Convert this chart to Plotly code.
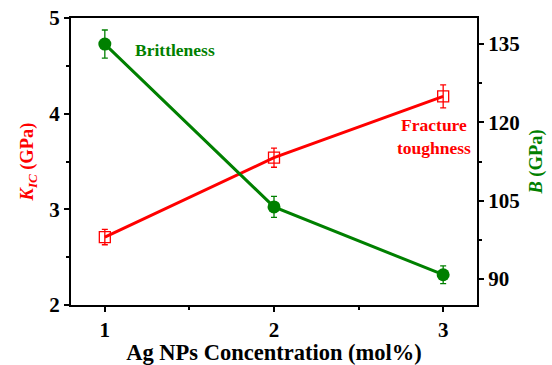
import plotly.graph_objects as go

conc = [1, 2, 3]
kic = [2.71, 3.54, 4.18]
kic_err = [0.08, 0.10, 0.12]
bmod = [135.0, 103.8, 90.8]
bmod_err = [2.7, 2.0, 1.7]

RED = "#ff0000"
GREEN = "#008000"
FONT = "Liberation Serif"

fig = go.Figure()
fig.add_trace(go.Scatter(
    x=conc, y=kic, mode="lines+markers",
    line=dict(color=RED, width=3),
    marker=dict(symbol="square-open", size=11, color=RED, line=dict(width=1.3)),
    error_y=dict(type="data", array=kic_err, color=RED, thickness=1.3, width=3),
    yaxis="y", showlegend=False))
fig.add_trace(go.Scatter(
    x=conc, y=bmod, mode="lines+markers",
    line=dict(color=GREEN, width=3),
    marker=dict(symbol="circle", size=13, color=GREEN),
    error_y=dict(type="data", array=bmod_err, color=GREEN, thickness=1.3, width=3),
    yaxis="y2", showlegend=False))

axis_common = dict(showline=True, linecolor="black", linewidth=2, ticks="outside",
                   ticklen=5, tickwidth=2, tickcolor="black", showgrid=False, zeroline=False,
                   automargin=False,
                   tickfont=dict(family=FONT, size=21, color="black", weight="bold"))
minor_common = dict(ticks="outside", ticklen=3, tickwidth=2, tickcolor="black")

fig.update_layout(
    width=552, height=365,
    margin=dict(l=71, r=75, t=18, b=60, autoexpand=False),
    font=dict(family=FONT, color="black"),
    plot_bgcolor="white", paper_bgcolor="white",
    xaxis=dict(range=[0.8, 3.2], tickvals=[1, 2, 3], mirror=True,
               minor=dict(tickvals=[1.5, 2.5], **minor_common),
               title=dict(text="Ag NPs Concentration (mol%)", standoff=7,
                          font=dict(family=FONT, size=22.5, color="black", weight="bold")),
               **axis_common),
    yaxis=dict(range=[2, 5], tickvals=[2, 3, 4, 5],
               minor=dict(tickvals=[2.5, 3.5, 4.5], **minor_common),
               title=dict(text="<i>K</i><sub><i>IC</i></sub> (GPa)", standoff=11,
                          font=dict(family=FONT, size=18.5, color=RED, weight="bold")),
               **axis_common),
    yaxis2=dict(range=[85, 140], tickvals=[90, 105, 120, 135], overlaying="y", side="right",
                minor=dict(tickvals=[97.5, 112.5, 127.5], **minor_common),
                title=dict(text="<i>B</i> (GPa)", standoff=10,
                           font=dict(family=FONT, size=18.5, color=GREEN, weight="bold")),
                **axis_common),
    annotations=[
        dict(text="Brittleness", x=1.166, y=133.9, xref="x", yref="y2", xanchor="left", yanchor="middle",
             showarrow=False, font=dict(family=FONT, size=17.5, color=GREEN, weight="bold")),
        dict(text="Fracture<br>toughness", x=2.715, y=3.76, xref="x", yref="y", xanchor="left", yanchor="middle",
             align="center", showarrow=False,
             font=dict(family=FONT, size=17.5, color=RED, weight="bold")),
    ],
)

fig.write_html("out.html")
